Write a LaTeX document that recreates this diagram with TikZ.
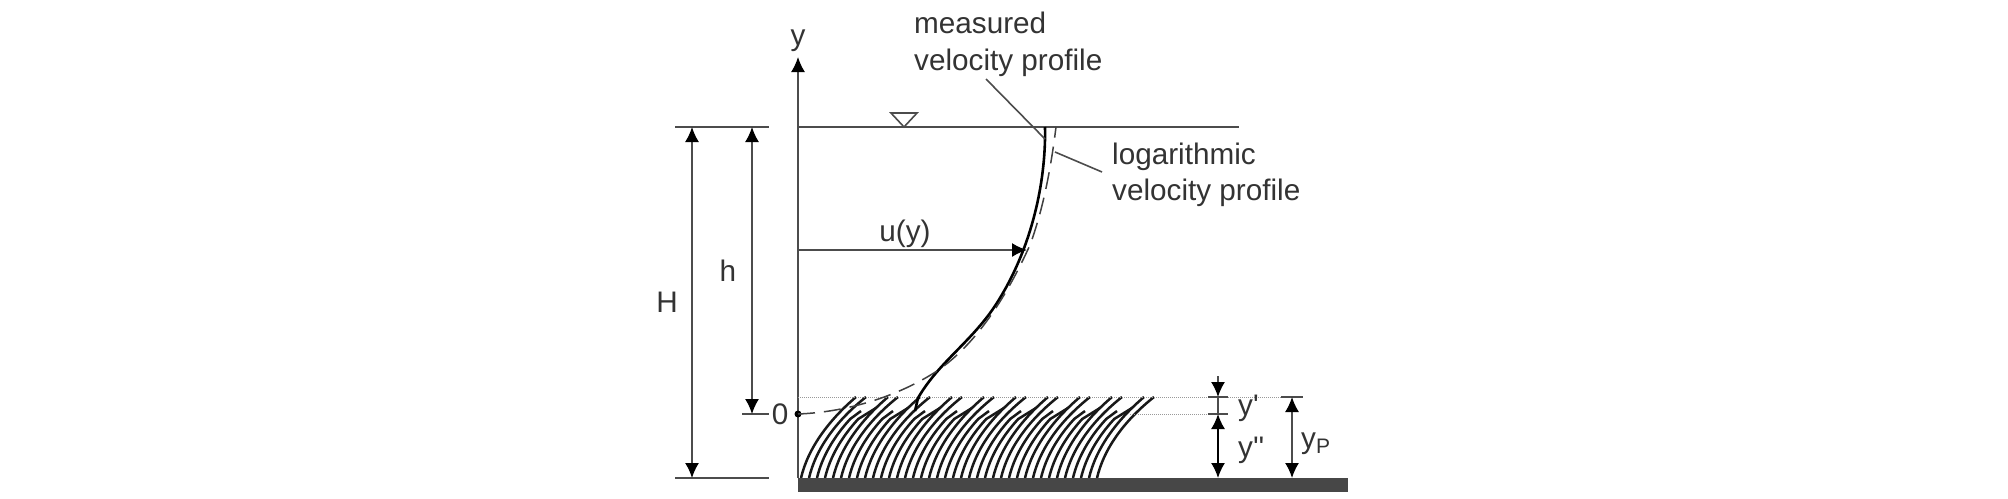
\documentclass[tikz,border=0pt]{standalone}
\usepackage{fontspec}
\setmainfont{Liberation Sans}
\newfontfamily\plainf{Liberation Sans}
\usetikzlibrary{arrows.meta}
\tikzset{
  thin line/.style={draw=black!70,line width=1.6pt},
  tipb/.tip={Latex[length=15pt,width=14pt,color=black]},
  dim/.style={thin line,tipb-tipb},
  up/.style={thin line,-tipb},
  dot line/.style={draw=black!40,line width=1pt,densely dotted},
  lbl/.style={font=\plainf\fontsize{29.7}{37}\selectfont,text=black!80,inner sep=0pt},
  blade/.style={draw=black!90,line width=2.5pt,line cap=butt},
}
\begin{document}
\begin{tikzpicture}[x=1pt,y=-1pt]
\useasboundingbox (0,0) rectangle (2008,498);
\fill[white] (0,0) rectangle (2008,498);
% blades
\foreach \i in {0,...,37}{
  \pgfmathsetmacro\bx{801+8*\i}
  \pgfmathtruncatemacro\kk{mod(37-\i,4)}
  \ifcase\kk
    \draw[blade] (\bx,478) .. controls (\bx+7,448) and (\bx+28,420) .. (\bx+57,397);
  \or
    \draw[blade] (\bx,478) .. controls (\bx+7,448) and (\bx+28,420) .. (\bx+55,397);
  \or
    \draw[blade] (\bx,478) .. controls (\bx+4.9,457) and (\bx+16.66,437) .. (\bx+33.2,419) -- (\bx+51,408);
  \or
    \draw[blade] (\bx,478) .. controls (\bx+4.9,457) and (\bx+16.66,437) .. (\bx+33.2,419) -- (\bx+44,411);
  \fi
}
% ground
\fill[black!72] (798,478) rectangle (1348,492);
% axis and lines
\coordinate (O) at (798,478);
\coordinate (T) at (798,57);
\draw[up] (O) -- (T);
\node[lbl] (ylab) at (798,41) {y};
\coordinate (wl) at (798,127);
\coordinate (wr) at (1239,127);
\draw[thin line] (wl) -- (wr);
\coordinate (t1) at (891,113); \coordinate (t2) at (917,113); \coordinate (t3) at (904,127);
\draw[thin line,fill=white] (t1) -- (t2) -- (t3) -- cycle;
% left dims
\coordinate (a1) at (675,127); \coordinate (a2) at (769,127);
\coordinate (b1) at (675,478); \coordinate (b2) at (769,478);
\coordinate (c1) at (742,414); \coordinate (c2) at (769,414);
\draw[thin line] (a1) -- (a2); \draw[thin line] (b1) -- (b2); \draw[thin line] (c1) -- (c2);
\coordinate (H1) at (692,127); \coordinate (H2) at (692,478);
\coordinate (h1) at (752,127); \coordinate (h2) at (752,414);
\draw[dim] (H1) -- (H2); \draw[dim] (h1) -- (h2);
\node[lbl] (Hl) at (667,302) {H};
\node[lbl] (hl) at (728,271) {h};
\node[lbl] (zero) at (780,414) {0};
\fill[black] (798,414) circle (3.5);
% dotted
\draw[dot line] (798,397) -- (1303,397);
\draw[dot line] (1130,414) -- (1228,414);
% right dims
\draw[thin line] (1208,397) -- (1228,397);
\draw[thin line] (1208,414) -- (1228,414);
\draw[thin line] (1281,397) -- (1303,397);
\draw[thin line] (1218,397) -- (1218,414);
\draw[up] (1218,376) -- (1218,397);
\draw[thin line,draw=black,tipb-tipb] (1218,414) -- (1218,478);
\draw[dim] (1292,397) -- (1292,478);
\node[lbl,anchor=base west] (yp1) at (1238,415) {y'};
\node[lbl,anchor=base west] (ypp) at (1238,457) {y''};
\node[lbl,anchor=base west] (yP) at (1301,448) {y\raisebox{-5pt}{\fontsize{21}{21}\selectfont P}};
% measured profile
\draw[black,line width=2.6pt] (1045,127) .. controls (1046,175) and (1035,240) .. (1000,298) .. controls (975,340) and (940,360) .. (918,398) -- (915,411);
\draw[black!75,line width=1.5pt,dash pattern=on 17pt off 9pt] (798,414) .. controls (850,412) and (900,395) .. (937,371) .. controls (975,345) and (1005,300) .. (1030,245) .. controls (1042,212) and (1050,175) .. (1056,127);
% u(y)
\coordinate (u1) at (798,250); \coordinate (u2) at (1027,250);
\draw[up] (u1) -- (u2);
\node[lbl] (ul) at (905,234) {u(y)};
% labels
\node[lbl,anchor=base west] (m1) at (914,33) {measured};
\node[lbl,anchor=base west] (m2) at (914,70) {velocity profile};
\node[lbl,anchor=base west] (l1) at (1112,164) {logarithmic};
\node[lbl,anchor=base west] (l2) at (1112,200) {velocity profile};
\coordinate (p1) at (986,79); \coordinate (p2) at (1045,139);
\draw[thin line] (p1) -- (p2);
\coordinate (q1) at (1102,172); \coordinate (q2) at (1055,152);
\draw[thin line] (q1) -- (q2);
\end{tikzpicture}
\end{document}
